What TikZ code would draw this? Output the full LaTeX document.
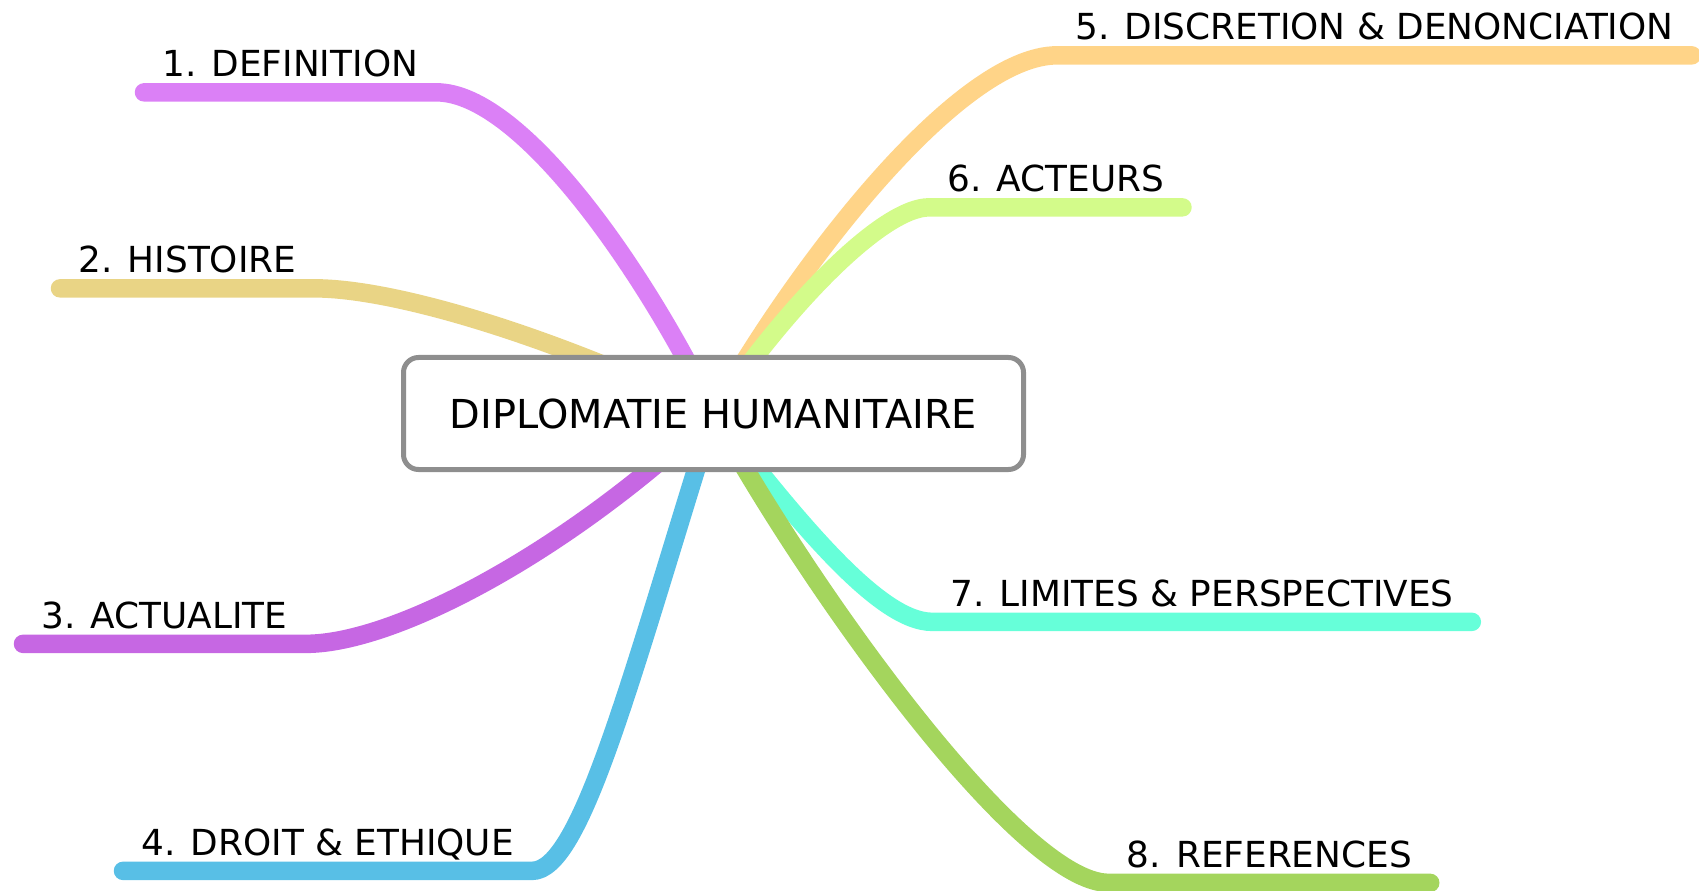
\documentclass[tikz,border=0pt]{standalone}
\usepackage{fontspec}
\setmainfont{DejaVu Sans}
\usetikzlibrary{backgrounds}
\definecolor{hubgray}{RGB}{142,142,142}
\definecolor{defcol}{RGB}{219,128,246}
\definecolor{histcol}{RGB}{233,212,133}
\definecolor{actucol}{RGB}{198,103,227}
\definecolor{droitcol}{RGB}{88,191,230}
\definecolor{disccol}{RGB}{255,212,136}
\definecolor{actcol}{RGB}{211,251,138}
\definecolor{limcol}{RGB}{102,255,217}
\definecolor{refcol}{RGB}{164,213,93}
\begin{document}
\begin{tikzpicture}[
    hub box/.style={draw=hubgray, line width=0.1cm, rounded corners=0.3cm, fill=white,
        minimum width=12.40cm, minimum height=2.24cm, inner sep=0pt,
        font=\fontsize{22.7}{27}\selectfont},
    topic/.style={anchor=base west, inner xsep=0.36cm, inner ysep=0.31cm,
        text height=0.55cm, text depth=0pt, font=\fontsize{20.4}{24}\selectfont},
    branch/.style={line width=0.37cm, line cap=round, line join=round},
    ]
\useasboundingbox (0,0) rectangle (33.98,17.80);
\node[hub box] (hub) at (14.27,9.53) {DIPLOMATIE HUMANITAIRE};
% left side
\node[topic] (definition) at (2.88,16.27) {1. DEFINITION};
\node[topic] (histoire) at (1.20,12.35) {2. HISTOIRE};
\node[topic] (actualite) at (0.46,5.24) {3. ACTUALITE};
\node[topic] (droit) at (2.46,0.70) {4. DROIT \& ETHIQUE};
% right side
\node[topic] (discretion) at (21.14,17.01) {5. DISCRETION \& DENONCIATION};
\node[topic] (acteurs) at (18.58,13.97) {6. ACTEURS};
\node[topic] (limites) at (18.64,5.68) {7. LIMITES \& PERSPECTIVES};
\node[topic] (references) at (22.17,0.46) {8. REFERENCES};
\begin{scope}[on background layer]
\draw[branch, defcol] (hub.center) .. controls +(-1.27,2.67) and +(1.74,0) .. (definition.south east) -- (definition.south west);
\draw[branch, histcol] (hub.center) .. controls +(-3.27,1.57) and +(1.58,0) .. (histoire.south east) -- (histoire.south west);
\draw[branch, actucol] (hub.center) .. controls +(-2.87,-2.73) and +(1.80,0) .. (actualite.south east) -- (actualite.south west);
\draw[branch, droitcol] (hub.center) .. controls +(-1.67,-5.33) and +(0.98,0) .. (droit.south east) -- (droit.south west);
\draw[branch, disccol] (hub.center) .. controls +(1.73,3.07) and +(-1.94,0) .. (discretion.south west) -- (discretion.south east);
\draw[branch, actcol] (hub.center) .. controls +(1.63,2.37) and +(-0.88,0) .. (acteurs.south west) -- (acteurs.south east);
\draw[branch, limcol] (hub.center) .. controls +(1.73,-2.23) and +(-1.04,0) .. (limites.south west) -- (limites.south east);
\draw[branch, refcol] (hub.center) .. controls +(1.93,-3.53) and +(-1.77,0) .. (references.south west) -- (references.south east);
\end{scope}
\end{tikzpicture}
\end{document}
